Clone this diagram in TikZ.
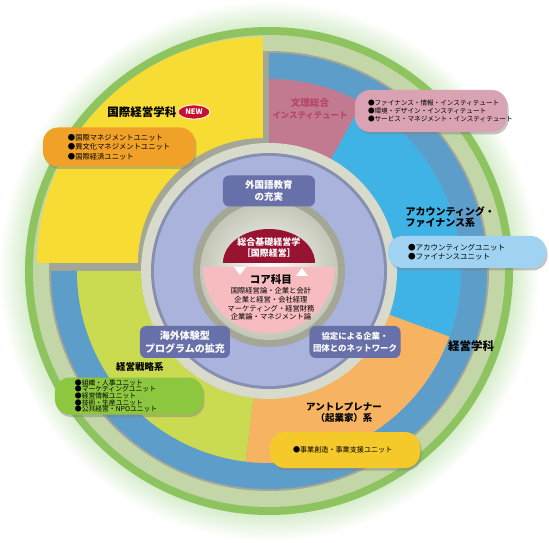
\documentclass[tikz,border=0pt]{standalone}
\usepackage{fontspec}
\setmainfont{Noto Sans CJK JP}
\usetikzlibrary{shadows,shapes.geometric}

\definecolor{rimglow}{HTML}{BEE2AC}
\definecolor{rimgreen}{HTML}{8EC460}
\definecolor{rimlight}{HTML}{C2D6A8}
\definecolor{bevelgray}{HTML}{A4A696}
\definecolor{bandblue}{HTML}{5D9DCA}
\definecolor{skyblue}{HTML}{40B3E6}
\definecolor{bunripink}{HTML}{C27A90}
\definecolor{ventureorange}{HTML}{F6B463}
\definecolor{senryakugreen}{HTML}{CADB52}
\definecolor{kokusaiyellow}{HTML}{F7DC33}
\definecolor{innerwhite}{HTML}{D8DACC}
\definecolor{lavender}{HTML}{A9B3DC}
\definecolor{slatebox}{HTML}{6870A9}
\definecolor{coregray}{HTML}{C4C6B6}
\definecolor{kisored}{HTML}{981332}
\definecolor{corepink}{HTML}{F7BCC0}
\definecolor{newred}{HTML}{C8102E}
\definecolor{bunritext}{HTML}{B5456A}
\definecolor{pillorange}{HTML}{F0A128}
\definecolor{pillpink}{HTML}{D9A3B3}
\definecolor{pillblue}{HTML}{9FD3F1}
\definecolor{pillyellow}{HTML}{F5C92A}
\definecolor{pillgreen}{HTML}{8DC63F}

\pgfdeclareradialshading{glowring}{\pgfpointorigin}{color(0bp)=(rimglow); color(21bp)=(rimglow); color(25bp)=(white); color(50bp)=(white)}

\newcommand{\sz}[2]{\fontsize{#1}{#2}\selectfont}

\tikzset{
  pill/.style={rectangle, rounded corners=15pt, inner sep=0pt, align=left,
    drop shadow={shadow xshift=1.5pt, shadow yshift=-2.5pt, opacity=0.45}},
  slatelabel/.style={rectangle, rounded corners=6pt, fill=slatebox, text=white,
    align=center, inner sep=0pt},
  heading/.style={align=center}
}

\begin{document}
\begin{tikzpicture}[x=1pt, y=1pt]

  \useasboundingbox (-269,-272) rectangle (280,271);
  \fill[white] (-269,-272) rectangle (280,271);

  % rim
  \shade[shading=glowring] (0,0) circle (270);
  \fill[rimgreen] (0,0) circle (244);
  \fill[rimlight] (0,0) circle (236);
  \fill[bevelgray] (0,0) circle (220);

  % band of the 経営学科, then its four sectors
  \fill[bandblue] (90:218) arc (90:-180:218) -- (180:192) arc (-180:90:192) -- cycle;
  \fill[bunripink] (90:192) arc (90:61:192) -- (61:128) arc (61:90:128) -- cycle;
  \fill[skyblue] (61:192) arc (61:-20:192) -- (-20:128) arc (-20:61:128) -- cycle;
  \fill[ventureorange] (-20:192) arc (-20:-97:192) -- (-97:128) arc (-97:-20:128) -- cycle;
  \fill[senryakugreen] (-97:192) arc (-97:-180:192) -- (-180:128) arc (-180:-97:128) -- cycle;

  % 国際経営学科
  \fill[kokusaiyellow, shift={(-6,8)}] (90:226) arc (90:180:226) -- (180:125) arc (180:90:125) -- cycle;

  % inner rings
  \fill[innerwhite] (0,0) circle (128);
  \fill[lavender!80!black] (0,0) circle (118);
  \fill[lavender] (0,0) circle (115);
  \fill[bevelgray] (0,0) circle (76);
  \shade[inner color=white, outer color=coregray] (0,0) circle (69);

  % core
  \fill[corepink] (-66,4) arc (180:360:66) -- cycle;
  \fill[kisored] (-46,8) arc [start angle=180, end angle=0, x radius=46, y radius=34] -- cycle;
  \fill[white] (-35,4) -- (-23,4) -- (-29,-4) -- cycle;
  \fill[white] (27,-5) -- (39,-5) -- (33,3) -- cycle;

  \node[text=white, align=center, font=\sz{9}{11}\bfseries] (kiso) at (0,23)
        {総合基礎経営学\\［国際経営］};
  \node[heading, font=\sz{10.5}{12}\bfseries] (coretitle) at (2,-9) {コア科目};
  \node[align=center, font=\sz{7.3}{8.7}] (corelist) at (2,-33)
        {国際経営論・企業と会計\\企業と経営・会社経理\\マーケティング・経営財務\\企業論・マネジメント論};

  % labels on the lavender ring
  \node[slatelabel, minimum width=92, minimum height=31, font=\sz{9.5}{12}\bfseries] (gaikokugo) at (0,80)
        {外国語教育\\の充実};
  \node[slatelabel, minimum width=90, minimum height=32, font=\sz{10}{12.5}\bfseries] (kaigai) at (-84,-71)
        {海外体験型\\プログラムの拡充};
  \node[slatelabel, minimum width=91, minimum height=32, font=\sz{8.4}{12}\bfseries] (kyotei) at (86,-71)
        {協定による企業・\\団体とのネットワーク};

  % 国際経営学科
  \node[heading, font=\sz{11.5}{13}\bfseries] (kokusai) at (-127,159) {国際経営学科};
  \node[ellipse, fill=newred, draw=white, line width=0.8pt, minimum width=32, minimum height=14,
        inner sep=0pt, text=white, font=\sz{7.5}{8}\bfseries] (newmark) at (-75,159) {NEW};
  \node[pill, fill=pillorange, minimum width=152, minimum height=39, text width=102,
        font=\sz{7.3}{9.5}] (kokusaipill) at (-150,124)
        {●国際マネジメントユニット\\●異文化マネジメントユニット\\●国際経済ユニット};

  % 文理総合インスティテュート
  \node[align=center, text=bunritext, font=\sz{9.6}{12}\bfseries] (bunri) at (41,162)
        {文理総合\\{\sz{8.4}{12}インスティテュート}};
  \node[pill, fill=pillpink, minimum width=152, minimum height=42, text width=126,
        font=\sz{6.6}{7.6}] (bunripill) at (162,160)
        {●ファイナンス・情報・インスティテュート\\●環境・デザイン・インスティテュート\\●サービス・マネジメント・インスティテュート};

  % アカウンティング・ファイナンス系
  \node[align=left, anchor=west, font=\sz{10}{11.5}\bfseries] (account) at (133,54)
        {アカウンティング・\\ファイナンス系};
  \node[pill, fill=pillblue, minimum width=158, minimum height=32, text width=118,
        font=\sz{7.5}{9}] (accountpill) at (198,19)
        {●アカウンティングユニット\\●ファイナンスユニット};

  % 経営学科
  \node[heading, font=\sz{11.5}{13}\bfseries] (keiei) at (202,-75) {経営学科};

  % アントレプレナー（起業家）系
  \node[heading, font=\sz{9.5}{11.5}\bfseries] (venture) at (75,-141.5) {アントレプレナー\\（起業家）系};
  \node[pill, fill=pillyellow, minimum width=150, minimum height=36, text width=104,
        font=\sz{7.1}{9}] (venturepill) at (76,-179)
        {●事業創造・事業支援ユニット};

  % 経営戦略系
  \node[heading, font=\sz{9.5}{11}\bfseries] (senryaku) at (-129,-96) {経営戦略系};
  \node[pill, fill=pillgreen, minimum width=148, minimum height=37, text width=108,
        font=\sz{6.8}{6.6}] (senryakupill) at (-140,-125)
        {●組織・人事ユニット\\●マーケティングユニット\\●経営情報ユニット\\●技術・生産ユニット\\●公共経営・NPOユニット};

\end{tikzpicture}
\end{document}
